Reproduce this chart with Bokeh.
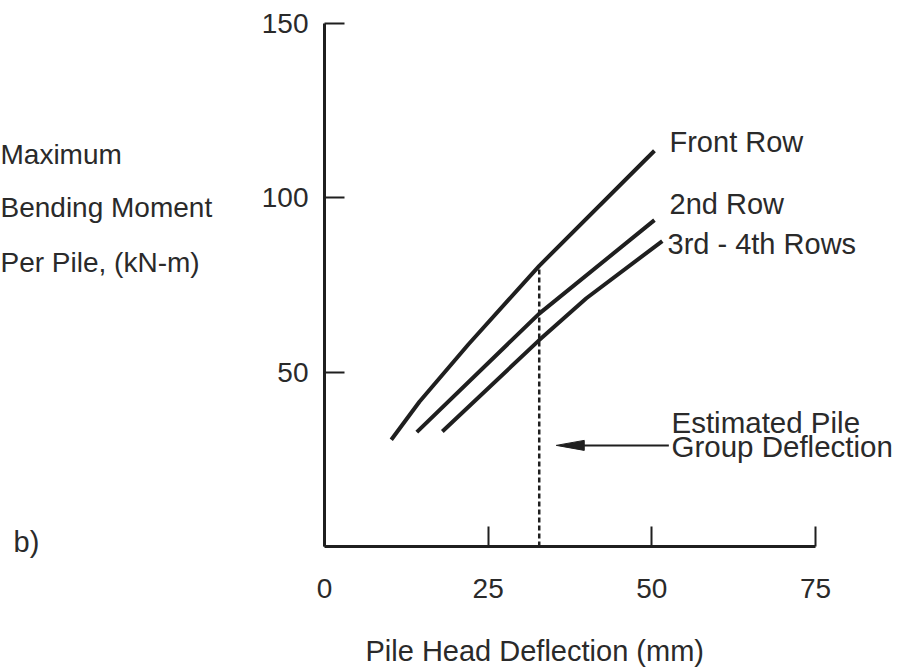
from bokeh.plotting import figure
from bokeh.models import Range1d, FixedTicker, Label, LinearAxis
from bokeh.embed import file_html
from bokeh.resources import INLINE

# ---------------- data ----------------
front_x = [10.2, 14.5, 22.0, 28.0, 32.8, 50.4]
front_y = [30.6, 41.5, 58.0, 70.5, 80.5, 113.5]
second_x = [14.1, 32.8, 50.4]
second_y = [32.8, 66.8, 93.6]
third_x = [18.0, 32.8, 40.0, 51.6]
third_y = [33.0, 59.2, 71.2, 87.6]
est_deflection = 32.8      # mm, estimated pile group deflection
est_moment = 80.5          # kN-m, front row moment at that deflection
x_ticks = [0, 25, 50, 75]
y_ticks = [50, 100, 150]
x_bounds = (0, 75)
y_bounds = (0, 150)
arrow_tail_x = 52.6
arrow_tip_x = 35.4
arrow_y = 29.0

# ---------------- styling / layout ----------------
INK = "#1f1f1f"
TXT = "#2a2a2a"
FONT = "Liberation Sans"
W, H = 905, 669
# pixel position of the axes box inside the canvas
AX_L, AX_R, AX_T, AX_B = 324, 815, 23, 546
px_per_x = (AX_R - AX_L) / (x_bounds[1] - x_bounds[0])
px_per_y = (AX_B - AX_T) / (y_bounds[1] - y_bounds[0])
# the frame covers the whole canvas so that texts outside the axes are not clipped
x_start = x_bounds[0] - AX_L / px_per_x
x_end = x_bounds[1] + (W - AX_R) / px_per_x
y_start = y_bounds[0] - (H - AX_B) / px_per_y
y_end = y_bounds[1] + AX_T / px_per_y

p = figure(width=W, height=H, output_backend="svg", toolbar_location=None,
           x_range=Range1d(x_start, x_end), y_range=Range1d(y_start, y_end),
           x_axis_location=None, y_axis_location=None,
           min_border=0, title=None)
p.grid.visible = False
p.outline_line_color = None
p.background_fill_color = "white"
p.border_fill_color = "white"

xaxis = LinearAxis(fixed_location=y_bounds[0], bounds=x_bounds, ticker=FixedTicker(ticks=x_ticks))
yaxis = LinearAxis(fixed_location=x_bounds[0], bounds=y_bounds, ticker=FixedTicker(ticks=y_ticks))
for ax in (xaxis, yaxis):
    ax.axis_line_width = 3
    ax.axis_line_color = INK
    ax.major_tick_line_width = 2
    ax.major_tick_line_color = INK
    ax.major_tick_in = 20
    ax.major_tick_out = 0
    ax.minor_tick_line_color = None
    ax.major_label_text_font = FONT
    ax.major_label_text_font_size = "28px"
    ax.major_label_text_color = TXT
xaxis.major_label_standoff = 32
yaxis.major_label_standoff = 16
p.add_layout(xaxis, "below")
p.add_layout(yaxis, "left")

# curves
for xs, ys in ((front_x, front_y), (second_x, second_y), (third_x, third_y)):
    p.line(xs, ys, line_width=4, line_color=INK, line_join="round")

# estimated deflection (dashed)
p.segment(x0=[est_deflection], y0=[y_bounds[0]], x1=[est_deflection], y1=[est_moment],
          line_color=INK, line_width=2.5, line_dash="5 3")

# arrow: shaft + narrow head (head size given in pixels)
head_len = 28 / px_per_x
head_hw = 5 / px_per_y
p.segment(x0=[arrow_tail_x], y0=[arrow_y], x1=[arrow_tip_x + head_len * 0.8], y1=[arrow_y],
          line_color=INK, line_width=2)
p.patch([arrow_tip_x, arrow_tip_x + head_len, arrow_tip_x + head_len],
        [arrow_y, arrow_y + head_hw, arrow_y - head_hw], color=INK)

BASE_FIX = 12  # renderer places the text ~12px below the requested baseline


def lab(text, sx, sy, size="29px"):
    # sx, sy: canvas pixels of the text's left end on its baseline
    x = x_bounds[0] + (sx - AX_L) / px_per_x
    y = y_bounds[0] + (AX_B - (sy - BASE_FIX)) / px_per_y
    p.add_layout(Label(x=x, y=y, text=text, text_font=FONT, text_font_size=size,
                       text_color=TXT, text_align="left", text_baseline="alphabetic"))


lab("Front Row", 669, 153)
lab("2nd Row", 669, 215)
lab("3rd - 4th Rows", 667, 255)
lab("Estimated Pile", 671, 434, "29.5px")
lab("Group Deflection", 671, 458, "29.5px")
lab("Pile Head Deflection (mm)", 365, 662)
lab("Maximum", 0, 166, "28px")
lab("Bending Moment", 0, 219, "28px")
lab("Per Pile, (kN-m)", 0, 274, "28px")
lab("b)", 13, 553)

open("out.html", "w").write(file_html(p, INLINE))
